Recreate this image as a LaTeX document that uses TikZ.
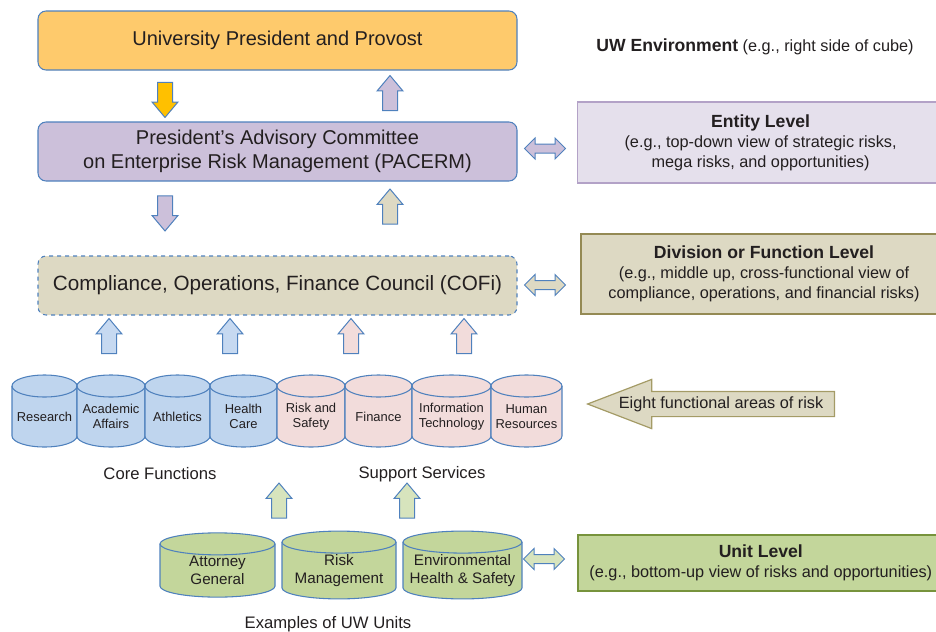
\documentclass[tikz,border=0pt]{standalone}
\usepackage{fontspec}
\setmainfont{Liberation Sans}
\usetikzlibrary{shapes}
\usetikzlibrary{arrows}
\usetikzlibrary{positioning}
\usetikzlibrary{backgrounds}

\definecolor{txt}{HTML}{231F20}
\definecolor{lineblue}{HTML}{4F81BD}
\definecolor{topfill}{HTML}{FECA6C}
\definecolor{pacfill}{HTML}{CCC0DA}
\definecolor{cofifill}{HTML}{DDD9C3}
\definecolor{entfill}{HTML}{E5E0EC}
\definecolor{entline}{HTML}{B3A2C7}
\definecolor{divline}{HTML}{948A54}
\definecolor{unitfill}{HTML}{C3D69B}
\definecolor{unitline}{HTML}{77933C}
\definecolor{corefill}{HTML}{BFD5EE}
\definecolor{supfill}{HTML}{F2DCDB}
\definecolor{yellowarr}{HTML}{FFC000}
\definecolor{upblue}{HTML}{C6D9F1}
\definecolor{upgreen}{HTML}{D7E4BD}
\definecolor{eightline}{HTML}{A49B66}

\begin{document}
\begin{tikzpicture}[x=0.75pt,y=-0.75pt]
			\tikzstyle{every node}=[text=txt]
			\tikzstyle{mainbox}=[rectangle, rounded corners=6pt, draw=lineblue, line width=0.8pt, minimum width=359.25pt, minimum height=44.25pt, align=center, font=\fontsize{15}{18}\selectfont]
			\tikzstyle{levelbox}=[rectangle, anchor=west, minimum width=274.5pt, align=center, font=\fontsize{12.2}{15}\selectfont]
			\tikzstyle{func}=[rectangle, outer sep=0pt, inner sep=1pt, minimum height=29.25pt, align=center, font=\fontsize{9.7}{11.5}\selectfont]
			\tikzstyle{unit}=[func, minimum height=23.25pt, font=\fontsize{11.4}{13.5}\selectfont]
			\tikzstyle{drum}=[draw=lineblue, line width=0.8pt]
			\tikzstyle{uparrow}=[single arrow, shape border rotate=90, draw=lineblue, line width=0.75pt, minimum height=26.25pt, minimum width=19pt, inner sep=5.25pt, single arrow head extend=4.1pt, single arrow tip angle=80]
			\tikzstyle{downarrow}=[uparrow, shape border rotate=270]
			\tikzstyle{sidearrow}=[double arrow, draw=lineblue, line width=0.75pt, minimum height=30.75pt, minimum width=15pt, inner sep=3pt, double arrow head extend=4.5pt]
			\tikzstyle{caption}=[font=\fontsize{12.5}{15}\selectfont]
			
			\useasboundingbox (0,0) rectangle (936,632);
			
			% governance boxes
			\node[mainbox, fill=topfill] (pres) at (277.5,40.5) {University President and Provost};
			\node[mainbox, fill=pacfill] (pacerm) at (277.5,151.5) {President's Advisory Committee\\on Enterprise Risk Management (PACERM)};
			\node[mainbox, fill=cofifill, dashed, font=\fontsize{15.5}{18}\selectfont] (cofi) at (277.5,285.5) {Compliance, Operations, Finance Council (COFi)};
			
			\node[downarrow, fill=yellowarr] (p2c) at (165,95.5) {};
			\node[uparrow, fill=pacfill] (c2p) at (390,97.5) {};
			\node[downarrow, fill=pacfill] (c2f) at (165,209) {};
			\node[uparrow, fill=cofifill] (f2c) at (390,211) {};
			
			% eight functional areas
			\node[func, minimum width=48.75pt] (res) at (44.5,416.5) {Research};
			\node[func, minimum width=51pt, right=0pt of res] (aca) {Academic\\Affairs};
			\node[func, minimum width=48.75pt, right=0pt of aca] (ath) {Athletics};
			\node[func, minimum width=50.25pt, right=0pt of ath] (hea) {Health\\Care};
			\node[func, minimum width=51pt, right=0pt of hea] (ris) {Risk and\\Safety};
			\node[func, minimum width=50.25pt, right=0pt of ris] (fin) {Finance};
			\node[func, minimum width=59.25pt, right=0pt of fin] (inf) {Information\\Technology};
			\node[func, minimum width=53.25pt, right=0pt of inf] (hum) {Human\\Resources};
			
			\node[uparrow, fill=upblue] (up1) at (109,340.5) {};
			\node[uparrow, fill=upblue] (up2) at (230,340.5) {};
			\node[uparrow, fill=supfill] (up3) at (351,340.5) {};
			\node[uparrow, fill=supfill] (up4) at (464,340.5) {};
			
			\node[caption] (core) at (160,474) {Core Functions};
			\node[caption] (supp) at (422,474) {Support Services};
			
			% units
			\node[unit, minimum width=86.25pt] (att) at (217.5,570.5) {Attorney\\General};
			\node[unit, minimum width=85.5pt, right=5.25pt of att] (rmg) {Risk\\Management};
			\node[unit, minimum width=89.25pt, right=5.25pt of rmg] (ehs) {Environmental\\Health \& Safety};
			\node[caption] (units) at (328,624) {Examples of UW Units};
			
			\node[uparrow, fill=upgreen] (up5) at (279,505) {};
			\node[uparrow, fill=upgreen] (up6) at (407,505) {};
			
			% drums behind the labels
			\begin{pgfonlayer}{background}
			\foreach \nd/\w/\c in {res/24.375pt/corefill, aca/25.5pt/corefill, ath/24.375pt/corefill, hea/25.125pt/corefill, ris/25.5pt/supfill, fin/25.125pt/supfill, inf/29.625pt/supfill, hum/26.625pt/supfill, att/43.125pt/unitfill, rmg/42.75pt/unitfill, ehs/44.625pt/unitfill}{
				\draw[drum, fill=\c] ([yshift=8.25pt]\nd.north west) -- (\nd.south west) arc[start angle=180, end angle=360, x radius=\w, y radius=8.25pt] -- ([yshift=8.25pt]\nd.north east) arc[start angle=0, end angle=180, x radius=\w, y radius=8.25pt] -- cycle;
				\draw[drum] ([yshift=8.25pt]\nd.north west) arc[start angle=180, end angle=360, x radius=\w, y radius=8.25pt];
			}
			\end{pgfonlayer}
			
			% levels
			\node[font=\fontsize{12.2}{15}\selectfont] (env) at (755,47) {{\fontsize{13.2}{15}\selectfont\bfseries UW Environment} (e.g., right side of cube)};
			\node[levelbox, fill=entfill, draw=entline, line width=0.9pt, minimum height=60.75pt] (entity) at (577,142.5) {{\fontsize{13.2}{15}\selectfont\bfseries Entity Level}\\(e.g., top-down view of strategic risks,\\mega risks, and opportunities)};
			\node[levelbox, fill=cofifill, draw=divline, line width=1.5pt, minimum height=60pt] (division) at (580,274) {{\fontsize{13.2}{15}\selectfont\bfseries Division or Function Level}\\(e.g., middle up, cross-functional view of\\compliance, operations, and financial risks)};
			\node[levelbox, fill=unitfill, draw=unitline, line width=1.2pt, minimum height=42pt] (unitlev) at (577,563) {{\fontsize{13.2}{15}\selectfont\bfseries Unit Level}\\(e.g., bottom-up view of risks and opportunities)};
			
			\node[sidearrow, fill=pacfill] (s1) at (545,148.5) {};
			\node[sidearrow, fill=cofifill] (s2) at (545,285) {};
			\node[sidearrow, fill=upgreen] (s3) at (544,559) {};
			
			\node[single arrow, shape border rotate=180, fill=cofifill, draw=eightline, line width=0.9pt, minimum height=185.25pt, minimum width=36pt, inner sep=9pt, single arrow head extend=9pt, single arrow tip angle=42] (eight) at (727.5,404) {};
			\node[font=\fontsize{12.2}{15}\selectfont] (eighttxt) at (721,404) {Eight functional areas of risk};
\end{tikzpicture}
\end{document}
